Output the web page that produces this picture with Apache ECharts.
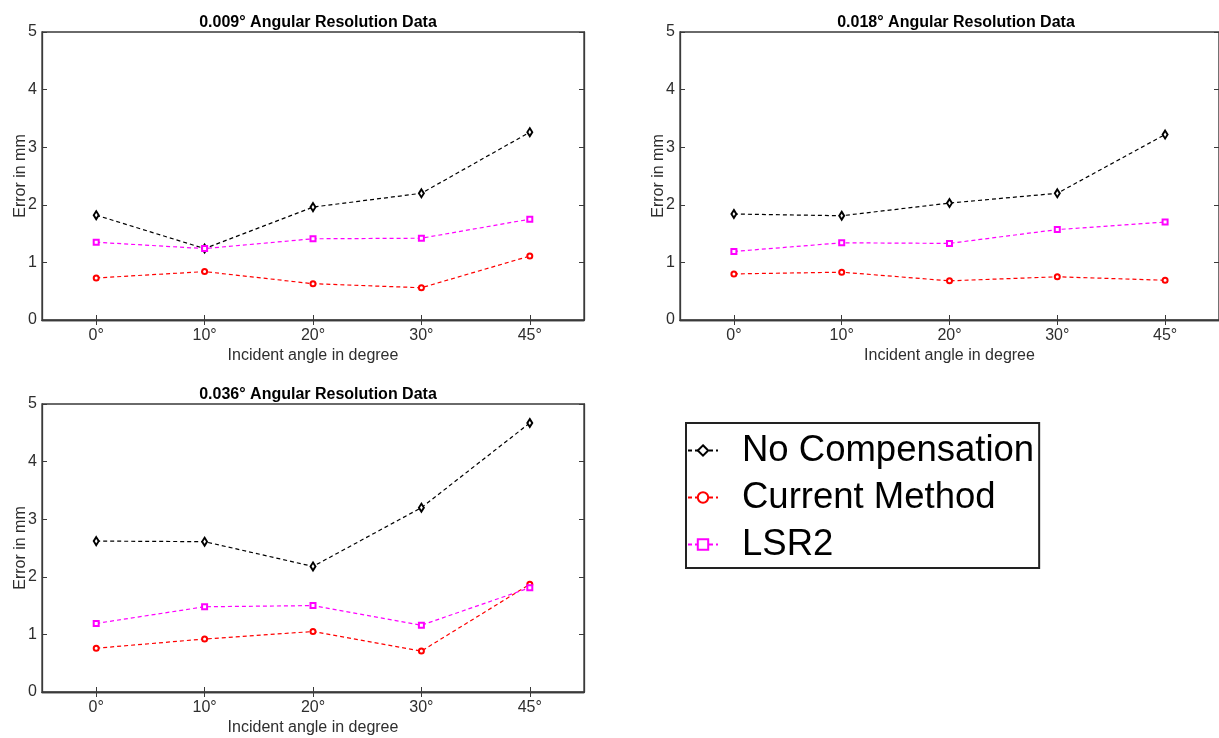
<!DOCTYPE html>
<html>
<head>
<meta charset="utf-8">
<script src="https://cdn.jsdelivr.net/npm/echarts@6/dist/echarts.min.js"></script>
<style>html,body{margin:0;padding:0;background:#fff}#c{width:1219px;height:738px}</style>
</head>
<body>
<div id="c"></div>
<script>
const categories = ['0°', '10°', '20°', '30°', '45°'];
const yTicks = [0, 1, 2, 3, 4, 5];
const titles = ['0.009° Angular Resolution Data', '0.018° Angular Resolution Data', '0.036° Angular Resolution Data'];
const seriesNames = ['No Compensation', 'Current Method', 'LSR2'];

// 0.009°
const noComp009 = [1.82, 1.24, 1.96, 2.20, 3.26];
const current009 = [0.73, 0.84, 0.63, 0.56, 1.11];
const lsr2009 = [1.35, 1.24, 1.41, 1.42, 1.75];
// 0.018°
const noComp018 = [1.84, 1.81, 2.03, 2.20, 3.22];
const current018 = [0.80, 0.83, 0.68, 0.75, 0.69];
const lsr2018 = [1.19, 1.34, 1.33, 1.57, 1.70];
// 0.036°
const noComp036 = [2.62, 2.61, 2.18, 3.20, 4.67];
const current036 = [0.76, 0.92, 1.05, 0.71, 1.87];
const lsr2036 = [1.19, 1.48, 1.50, 1.16, 1.81];

const panels = [
  [noComp009, current009, lsr2009],
  [noComp018, current018, lsr2018],
  [noComp036, current036, lsr2036]
];

const gridPos = [
  {left: 42, top: 32, width: 542, height: 288},
  {left: 680, top: 32, width: 542, height: 288},
  {left: 42, top: 404, width: 542, height: 288}
];

const axisColor = '#3a3a3a';
const styles = [
  {color: '#000000', symbol: 'emptyDiamond', size: [5, 8]},
  {color: '#ff0000', symbol: 'emptyCircle', size: 5},
  {color: '#ff00ff', symbol: 'emptyRect', size: 5}
];

const grids = [], xAxes = [], yAxes = [], series = [], titleOpts = [];
gridPos.forEach((g, i) => {
  grids.push(Object.assign({show: true, borderColor: axisColor, borderWidth: 1.3, containLabel: false}, g));
  titleOpts.push({
    text: titles[i],
    left: g.left + g.width / 2,
    textAlign: 'center',
    top: g.top - 22,
    textStyle: {fontFamily: 'Liberation Sans', fontSize: 16, fontWeight: 'bold', color: '#000'}
  });
  const lineSt = {show: true, lineStyle: {color: axisColor, width: 1.3}};
  const tickSt = {show: true, inside: true, length: 5, alignWithLabel: true, lineStyle: {color: axisColor, width: 1}};
  xAxes.push({
    type: 'category', gridIndex: i, data: categories, position: 'bottom',
    axisLine: lineSt, axisTick: tickSt,
    axisLabel: {fontFamily: 'Liberation Sans', fontSize: 16, color: '#2e2e2e', margin: 8},
    name: 'Incident angle in degree', nameLocation: 'middle', nameGap: 28, nameMoveOverlap: false,
    nameTextStyle: {fontFamily: 'Liberation Sans', fontSize: 16, color: '#2e2e2e'},
    splitLine: {show: false}
  });
  xAxes.push({
    type: 'category', gridIndex: i, data: categories, position: 'top',
    axisLine: lineSt, axisTick: tickSt, axisLabel: {show: false}, splitLine: {show: false}
  });
  const yTickSt = {show: true, inside: true, length: 5, lineStyle: {color: axisColor, width: 1}};
  yAxes.push({
    type: 'value', gridIndex: i, min: yTicks[0], max: yTicks[yTicks.length - 1], interval: 1, position: 'left',
    axisLine: lineSt, axisTick: yTickSt,
    axisLabel: {fontFamily: 'Liberation Sans', fontSize: 16, color: '#2e2e2e', margin: 5},
    name: 'Error in mm', nameLocation: 'middle', nameGap: 13.5, nameMoveOverlap: false,
    nameTextStyle: {fontFamily: 'Liberation Sans', fontSize: 16, color: '#2e2e2e'},
    splitLine: {show: false}
  });
  yAxes.push({
    type: 'value', gridIndex: i, min: yTicks[0], max: yTicks[yTicks.length - 1], interval: 1, position: 'right',
    axisLine: lineSt, axisTick: yTickSt, axisLabel: {show: false}, splitLine: {show: false}
  });
  panels[i].forEach((vals, k) => {
    const s = styles[k];
    series.push({
      name: seriesNames[k], type: 'line', data: vals,
      xAxisIndex: i * 2, yAxisIndex: i * 2,
      symbol: s.symbol, symbolSize: s.size, showAllSymbol: true,
      lineStyle: {color: s.color, width: 1.2, type: [4, 3]},
      itemStyle: {color: s.color, borderColor: s.color, borderWidth: 1},
      emphasis: {disabled: true}
    });
  });
});

const chart = echarts.init(document.getElementById('c'), null, {renderer: 'canvas'});
chart.setOption({
  animation: false,
  backgroundColor: '#fff',
  title: titleOpts,
  grid: grids,
  xAxis: xAxes,
  yAxis: yAxes,
  legend: {
    data: seriesNames,
    orient: 'vertical',
    left: 686, top: 423,
    itemWidth: 30, itemHeight: 13, itemGap: 10,
    padding: [9, 5, 5, 1],
    borderColor: '#222', borderWidth: 2,
    backgroundColor: '#fff',
    textStyle: {fontFamily: 'Liberation Sans', fontSize: 36.5, lineHeight: 36, color: '#000', padding: [0, 0, 0, 19]}
  },
  series: series
});
</script>
</body>
</html>
